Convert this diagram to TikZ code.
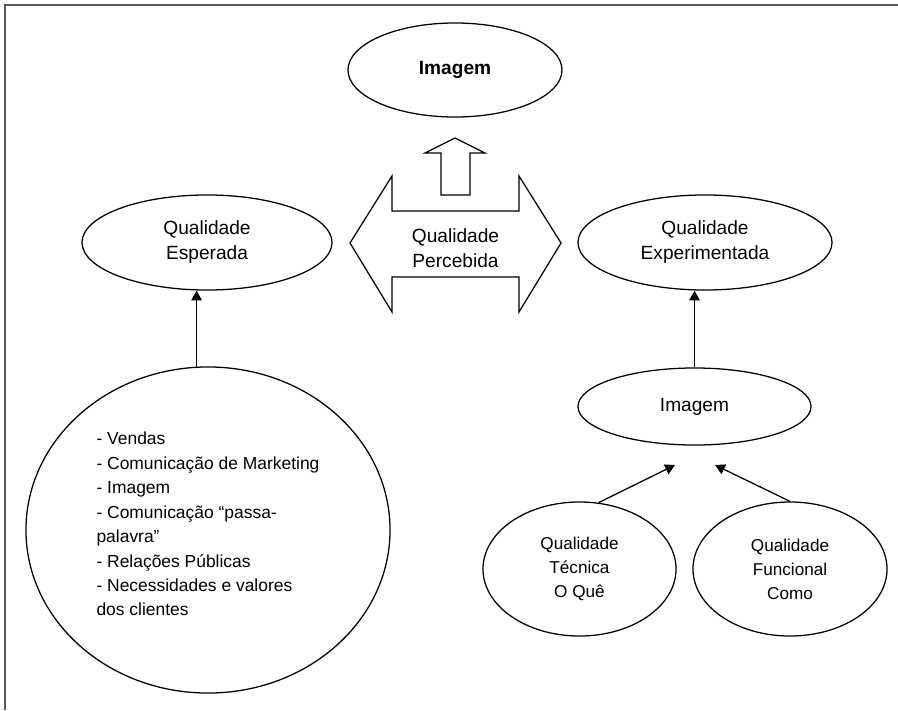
\documentclass[tikz,border=0pt]{standalone}
\usepackage{fontspec}
\setmainfont{Liberation Sans}
\usetikzlibrary{shapes.geometric,arrows.meta}

\begin{document}
\begin{tikzpicture}[x=0.025cm,y=-0.025cm,
		oval/.style={draw,ellipse,line width=0.9pt,inner sep=0pt,align=center,font=\fontsize{13.6}{17.8}\selectfont},
		small/.style={oval,font=\fontsize{12.2}{17}\selectfont},
		seta/.style={line width=0.9pt,-{Triangle[length=7pt,width=7.5pt]}},
		bloco/.style={draw,line width=0.9pt,line join=miter}]
		\useasboundingbox (0,0) rectangle (898,710);
		\draw[gray!70!black,line width=1.4pt] (5,710) -- (5,5) -- (898,5);
		%top
		\node[oval,font=\bfseries\fontsize{13.6}{17.8}\selectfont,minimum width=5.35cm,minimum height=2.35cm] (imgtop) at (455,70) {Imagem};
		\draw[bloco] (455,138) -- (485,153) -- (470,153) -- (470,195) -- (441,195) -- (441,153) -- (425,153) -- cycle;
		\draw[bloco] (350,243) -- (392,176) -- (392,211) -- (519,211) -- (519,176) -- (561,243) -- (519,312) -- (519,277) -- (392,277) -- (392,312) -- cycle;
		\node[align=center,font=\fontsize{13.6}{17.8}\selectfont] (perc) at (455.5,248) {Qualidade\\Percebida};
		%middle
		\node[oval,minimum width=6.25cm,minimum height=2.375cm] (esp) at (207,242.5) {Qualidade\\Esperada};
		\node[oval,minimum width=6.35cm,minimum height=2.375cm] (exp) at (705,242.5) {Qualidade\\Experimentada};
		\node[oval,minimum width=5.825cm,minimum height=1.925cm] (img) at (694.5,406.5) {Imagem};
		%bottom
		\node[oval,font=\fontsize{12.4}{17.4}\selectfont,align=left,text depth=8.5pt,minimum width=9.1cm,minimum height=8.15cm] (fat) at (208,530) {- Vendas\\- Comunicação de Marketing\\- Imagem\\- Comunicação “passa-\\palavra”\\- Relações Públicas\\- Necessidades e valores\\dos clientes};
		\node[small,minimum width=4.825cm,minimum height=3.35cm] (tec) at (579.5,569) {Qualidade\\Técnica\\O Quê};
		\node[small,minimum width=4.85cm,minimum height=3.35cm] (fun) at (790,569) {Qualidade\\Funcional\\Como};
		%arrows
		\coordinate (pe) at (675,465);
		\coordinate (pd) at (715,465);
		\draw[seta] (fat.94) -- (fat.94 |- esp.south);
		\draw[seta] (img.north) -- (img.north |- exp.south);
		\draw[seta] (tec.74) -- (pe);
		\draw[seta] (fun.north) -- (pd);
	\end{tikzpicture}
\end{document}
